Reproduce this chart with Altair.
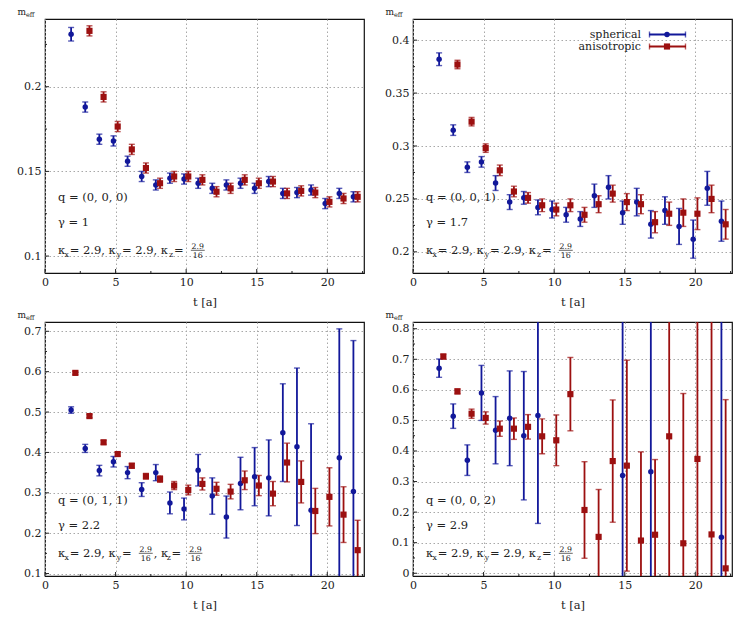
import altair as alt
import pandas as pd

BLUE = "#12189a"
RED = "#9c1010"
FONT = "DejaVu Serif"
INK = "#222222"

# ---------------- data ----------------
# Panel 1: q=(0,0,0), gamma=1
p1_sph_t = list(range(2, 23))
p1_sph_m = [0.231, 0.188, 0.169, 0.168, 0.156, 0.147, 0.142, 0.146, 0.1455, 0.143, 0.140,
            0.142, 0.143, 0.140, 0.144, 0.137, 0.1375, 0.139, 0.131, 0.137, 0.135]
p1_sph_e = [0.004, 0.003, 0.003, 0.003, 0.003, 0.003, 0.003, 0.003, 0.003, 0.003, 0.003,
            0.003, 0.003, 0.003, 0.003, 0.003, 0.003, 0.003, 0.003, 0.003, 0.003]
p1_ani_t = list(range(3, 23))
p1_ani_m = [0.233, 0.194, 0.1765, 0.163, 0.152, 0.143, 0.147, 0.147, 0.145, 0.138, 0.140,
            0.145, 0.143, 0.144, 0.137, 0.1385, 0.1375, 0.132, 0.134, 0.135]
p1_ani_e = [0.003, 0.003, 0.003, 0.003, 0.003, 0.003, 0.003, 0.003, 0.003, 0.003, 0.003,
            0.003, 0.003, 0.003, 0.003, 0.003, 0.003, 0.003, 0.003, 0.003]

# Panel 2: q=(0,0,1), gamma=1.7
p2_sph_t = list(range(2, 23))
p2_sph_m = [0.382, 0.315, 0.280, 0.285, 0.265, 0.247, 0.251, 0.242, 0.240, 0.235, 0.231,
            0.253, 0.261, 0.237, 0.247, 0.226, 0.239, 0.224, 0.212, 0.260, 0.229]
p2_sph_e = [0.006, 0.005, 0.005, 0.005, 0.007, 0.007, 0.006, 0.007, 0.008, 0.007, 0.007,
            0.011, 0.011, 0.011, 0.013, 0.013, 0.013, 0.017, 0.018, 0.016, 0.019]
p2_ani_t = list(range(3, 23))
p2_ani_m = [0.377, 0.323, 0.298, 0.277, 0.257, 0.251, 0.244, 0.240, 0.244, 0.235, 0.245,
            0.255, 0.247, 0.245, 0.228, 0.236, 0.237, 0.236, 0.250, 0.226]
p2_ani_e = [0.004, 0.004, 0.004, 0.005, 0.005, 0.005, 0.006, 0.006, 0.006, 0.007, 0.008,
            0.008, 0.008, 0.009, 0.010, 0.011, 0.013, 0.015, 0.013, 0.014]

# Panel 3: q=(0,1,1), gamma=2.2
p3_sph_t = list(range(2, 20)) + [21, 22]
p3_sph_m = [0.505, 0.410, 0.355, 0.377, 0.350, 0.308, 0.350, 0.275, 0.260, 0.356, 0.292,
            0.240, 0.323, 0.340, 0.337, 0.449, 0.414, 0.257, 0.387, 0.303]
p3_sph_e = [0.008, 0.010, 0.013, 0.013, 0.015, 0.017, 0.020, 0.027, 0.027, 0.039, 0.045,
            0.052, 0.065, 0.072, 0.094, 0.121, 0.195, 0.214, 0.319, 0.374]
p3_ani_t = list(range(2, 23))
p3_ani_m = [0.597, 0.490, 0.425, 0.396, 0.367, 0.341, 0.334, 0.318, 0.307, 0.322, 0.310,
            0.303, 0.331, 0.318, 0.298, 0.375, 0.327, 0.255, 0.290, 0.246, 0.158]
p3_ani_e = [0.004, 0.004, 0.005, 0.005, 0.006, 0.007, 0.008, 0.010, 0.012, 0.015, 0.016,
            0.018, 0.023, 0.025, 0.030, 0.048, 0.052, 0.056, 0.072, 0.069, 0.074]

# Panel 4: q=(0,0,2), gamma=2.9
p4_sph_t = [2, 3, 4, 5, 6, 7, 8, 9, 15, 17, 22]
p4_sph_m = [0.671, 0.514, 0.370, 0.590, 0.468, 0.507, 0.450, 0.516, 0.320, 0.332, 0.118]
p4_sph_e = [0.030, 0.040, 0.050, 0.090, 0.110, 0.155, 0.210, 0.353, 0.600, 0.600, 0.750]
p4_ani_t = list(range(2, 23))
p4_ani_m = [0.709, 0.595, 0.522, 0.508, 0.473, 0.473, 0.479, 0.448, 0.435, 0.586, 0.207,
            0.119, 0.367, 0.352, 0.107, 0.126, 0.448, 0.098, 0.374, 0.127, 0.016]
p4_ani_e = [0.008, 0.008, 0.015, 0.020, 0.025, 0.035, 0.040, 0.057, 0.083, 0.120, 0.158,
            0.155, 0.200, 0.345, 0.290, 0.246, 0.600, 0.490, 0.600, 0.750, 0.552]

x_ticks = [0, 5, 10, 15, 20]
x_minor = [2.5, 7.5, 12.5, 17.5, 22.5]

W, H = 319, 254
XDOM = [0, 22.6]

# ---------------- helpers ----------------
CW = {"0": .636, "1": .636, "2": .636, "3": .636, "4": .636, "5": .636, "6": .636,
      "7": .636, "8": .636, "9": .636, ".": .318, ",": .3, " ": .27, "=": .838,
      "(": .39, ")": .39, "q": .64, "x": .564, "y": .564, "z": .525, "κ": .56, "γ": .57}

BIG, SMALL = 11.5, 7.8


def tw(s, size):
    return sum(CW.get(c, .6) for c in s) * size


def rich(segs, x0, y0):
    """segs: list of (kind, text); returns text rows and rule rows in pixel coords."""
    rows, rules = [], []
    x = x0
    for kind, s in segs:
        if kind == "n":
            rows.append(dict(px=x, py=y0, txt=s, fs=BIG, al="left"))
            x += tw(s, BIG)
        elif kind == "sub":
            rows.append(dict(px=x, py=y0 + 2.6, txt=s, fs=SMALL, al="left"))
            x += tw(s, SMALL) + 0.8
        elif kind == "frac":
            num, den = s
            fw = max(tw(num, SMALL), tw(den, SMALL)) + 1.5
            cx = x + 1 + fw / 2
            rows.append(dict(px=cx, py=y0 - 5, txt=num, fs=SMALL, al="center"))
            rows.append(dict(px=cx, py=y0 + 3.6, txt=den, fs=SMALL, al="center"))
            rules.append(dict(rx=x + 1, rx2=x + 1 + fw, ry=y0 - 3.7))
            x += fw + 2
    return rows, rules


def annotations(qtxt, gtxt, ky_frac):
    rows, rules = [], []
    r, _ = rich([("n", qtxt)], 13, 182); rows += r
    r, _ = rich([("n", gtxt)], 13, 207); rows += r
    segs = [("n", "κ"), ("sub", "x"), ("n", " = 2.9, κ"), ("sub", "y")]
    if ky_frac:
        segs += [("n", " = "), ("frac", ("2.9", "16")), ("n", ", κ")]
    else:
        segs += [("n", " = 2.9, κ")]
    segs += [("sub", "z"), ("n", " = "), ("frac", ("2.9", "16"))]
    r, ru = rich(segs, 13, 235); rows += r; rules += ru
    # y-axis label m_eff above the axis
    rows.append(dict(px=-27.5, py=-4, txt="m", fs=9, al="left"))
    rows.append(dict(px=-19, py=-2.3, txt="eff", fs=6.5, al="left"))
    return pd.DataFrame(rows), pd.DataFrame(rules)


def panel(st, sm, se, at, am, ae, ydom, yticks, yminor, qtxt, gtxt, ky_frac, legend=False):
    sph = pd.DataFrame({"t": st, "m": sm, "e": se})
    sph["x"] = sph["t"] - 0.15
    sph["series"] = "spherical"
    ani = pd.DataFrame({"t": at, "m": am, "e": ae})
    ani["x"] = ani["t"] + 0.15
    ani["series"] = "anisotropic"
    df = pd.concat([sph, ani], ignore_index=True)
    df["lo"] = df["m"] - df["e"]
    df["hi"] = df["m"] + df["e"]

    xs = alt.Scale(domain=XDOM, nice=False, zero=False)
    ys = alt.Scale(domain=ydom, nice=False, zero=False)
    col = alt.Color("series:N", scale=alt.Scale(domain=["spherical", "anisotropic"],
                                                 range=[BLUE, RED]), legend=None)
    shp = alt.Shape("series:N", scale=alt.Scale(domain=["spherical", "anisotropic"],
                                                 range=["circle", "square"]), legend=None)
    siz = alt.Size("series:N", scale=alt.Scale(domain=["spherical", "anisotropic"],
                                                range=[30, 38]), legend=None)

    xaxis = alt.Axis(values=x_ticks, title="t [a]", grid=True)
    yaxis = alt.Axis(values=yticks, title=None, grid=True, format="~g",
                     minExtent=36, maxExtent=36)

    def X(f):
        return alt.X(f, scale=xs, axis=xaxis)

    def Y(f):
        return alt.Y(f, scale=ys, axis=yaxis)

    base = alt.Chart(df)
    bars = base.mark_rule(clip=True, strokeWidth=1.8).encode(
        x=X("x:Q"), y=Y("lo:Q"), y2="hi:Q", color=col)
    cap_lo = base.mark_tick(clip=True, orient="horizontal", size=6, thickness=1.4).encode(
        x=X("x:Q"), y=Y("lo:Q"), color=col)
    cap_hi = base.mark_tick(clip=True, orient="horizontal", size=6, thickness=1.4).encode(
        x=X("x:Q"), y=Y("hi:Q"), color=col)
    pts = base.mark_point(clip=True, filled=True, opacity=1).encode(
        x=X("x:Q"), y=Y("m:Q"), color=col, shape=shp, size=siz)

    # inward ticks
    xt_major = alt.Chart(pd.DataFrame({"v": x_ticks})).mark_rule(color=INK).encode(
        x=X("v:Q"), y=alt.value(H), y2=alt.value(H - 4))
    xt_minor = alt.Chart(pd.DataFrame({"v": x_minor})).mark_rule(color=INK, clip=True).encode(
        x=X("v:Q"), y=alt.value(H), y2=alt.value(H - 2))
    yt_major = alt.Chart(pd.DataFrame({"v": yticks})).mark_rule(color=INK).encode(
        y=Y("v:Q"), x=alt.value(0), x2=alt.value(4))
    yt_minor = alt.Chart(pd.DataFrame({"v": yminor})).mark_rule(color=INK).encode(
        y=Y("v:Q"), x=alt.value(0), x2=alt.value(2))

    tdf, rdf = annotations(qtxt, gtxt, ky_frac)
    txt_l = alt.Chart(tdf[tdf.al == "left"]).mark_text(
        font=FONT, baseline="alphabetic", align="left", color=INK).encode(
        x=alt.X("px:Q", scale=None), y=alt.Y("py:Q", scale=None), text="txt:N",
        size=alt.Size("fs:Q", scale=None))
    txt_c = alt.Chart(tdf[tdf.al == "center"]).mark_text(
        font=FONT, baseline="alphabetic", align="center", color=INK).encode(
        x=alt.X("px:Q", scale=None), y=alt.Y("py:Q", scale=None), text="txt:N",
        size=alt.Size("fs:Q", scale=None))
    frac = alt.Chart(rdf).mark_rule(color=INK, strokeWidth=0.7).encode(
        x=alt.X("rx:Q", scale=None), x2="rx2:Q", y=alt.Y("ry:Q", scale=None))

    layers = [bars, xt_major, xt_minor, yt_major, yt_minor, cap_lo, cap_hi, pts, txt_l, txt_c, frac]

    if legend:
        ldf = pd.DataFrame({"series": ["spherical", "anisotropic"],
                            "ly": [15.5, 27.5]})
        leg_t = alt.Chart(ldf).mark_text(font=FONT, fontSize=11, align="right",
                                         baseline="middle", color=INK).encode(
            x=alt.value(228), y=alt.Y("ly:Q", scale=None), text="series:N")
        leg_l = alt.Chart(ldf).mark_rule(strokeWidth=1.8).encode(
            x=alt.value(236), x2=alt.value(273), y=alt.Y("ly:Q", scale=None), color=col)
        leg_caps = alt.Chart(ldf).mark_tick(orient="vertical", size=6, thickness=1.4).encode(
            x=alt.value(236.5), y=alt.Y("ly:Q", scale=None), color=col)
        leg_caps2 = alt.Chart(ldf).mark_tick(orient="vertical", size=6, thickness=1.4).encode(
            x=alt.value(272.5), y=alt.Y("ly:Q", scale=None), color=col)
        leg_p = alt.Chart(ldf).mark_point(filled=True, opacity=1).encode(
            x=alt.value(254), y=alt.Y("ly:Q", scale=None), color=col, shape=shp, size=siz)
        layers += [leg_t, leg_l, leg_caps, leg_caps2, leg_p]

    return alt.layer(*layers).properties(width=W, height=H)


c1 = panel(p1_sph_t, p1_sph_m, p1_sph_e, p1_ani_t, p1_ani_m, p1_ani_e,
           [0.09, 0.24], [0.1, 0.15, 0.2], [0.125, 0.175, 0.225],
           "q = (0, 0, 0)", "γ = 1", False)
c2 = panel(p2_sph_t, p2_sph_m, p2_sph_e, p2_ani_t, p2_ani_m, p2_ani_e,
           [0.18, 0.42], [0.2, 0.25, 0.3, 0.35, 0.4], [0.225, 0.275, 0.325, 0.375],
           "q = (0, 0, 1)", "γ = 1.7", False, legend=True)
c3 = panel(p3_sph_t, p3_sph_m, p3_sph_e, p3_ani_t, p3_ani_m, p3_ani_e,
           [0.094, 0.723], [0.1, 0.2, 0.3, 0.4, 0.5, 0.6, 0.7], [0.15, 0.25, 0.35, 0.45, 0.55, 0.65],
           "q = (0, 1, 1)", "γ = 2.2", True)
c4 = panel(p4_sph_t, p4_sph_m, p4_sph_e, p4_ani_t, p4_ani_m, p4_ani_e,
           [-0.009, 0.822], [0, 0.1, 0.2, 0.3, 0.4, 0.5, 0.6, 0.7, 0.8],
           [0.05, 0.15, 0.25, 0.35, 0.45, 0.55, 0.65, 0.75],
           "q = (0, 0, 2)", "γ = 2.9", False)

chart = alt.vconcat(
    alt.hconcat(c1, c2, spacing=11),
    alt.hconcat(c3, c4, spacing=11),
    spacing=1,
).properties(
    padding={"left": 0, "top": -1, "right": 0, "bottom": 0}
).configure_view(
    stroke="#111", strokeWidth=1.2
).configure_axis(
    domain=False, ticks=False, labelFont=FONT, labelFontSize=11, labelColor=INK,
    labelPadding=4, titleFont=FONT, titleFontSize=11.5, titleFontWeight="normal",
    titleColor=INK, titlePadding=9, gridColor="#a8a8a8", gridDash=[1.5, 2.5], gridWidth=1,
    labelFlush=False
).configure_axisX(labelPadding=3)

chart.save("out.html", embed_options={"renderer": "svg", "actions": False})
